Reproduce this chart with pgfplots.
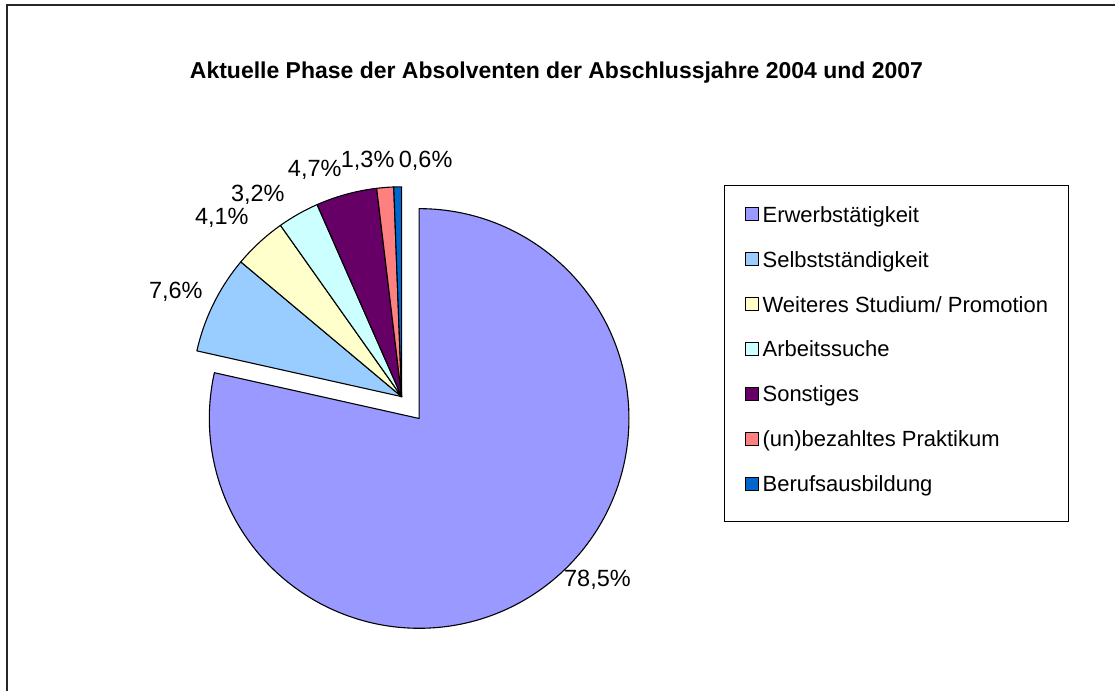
\documentclass[border=0pt]{standalone}
\usepackage{pgfplots}
\pgfplotsset{compat=1.18}
\usepackage{fontspec}
\setmainfont{Liberation Sans}

% Excel-Standardfarben
\definecolor{cErwerb}{HTML}{9999FF}
\definecolor{cSelbst}{HTML}{99CCFF}
\definecolor{cStudium}{HTML}{FFFFCC}
\definecolor{cSuche}{HTML}{CCFFFF}
\definecolor{cSonst}{HTML}{660066}
\definecolor{cPrakt}{HTML}{FF8080}
\definecolor{cBeruf}{HTML}{0066CC}

% Kuchenmitte (402,295), Radius 210; Start 12 Uhr, im Uhrzeigersinn
\def\cumsum{0}
\newcommand{\slice}[3]{% Wert in %, Farbe, Abstand (explode)
  \pgfplotsextra{%
    \pgfmathsetmacro\angA{90-3.6*\cumsum}%
    \pgfmathsetmacro\angB{90-3.6*(\cumsum+#1)}%
    \pgfmathsetmacro\angM{(\angA+\angB)/2}%
    \filldraw[fill=#2, draw=black, line width=1.1bp, line join=round, shift={(\angM:#3bp)}]
      (axis cs:402,295) -- ++(\angA:210bp) arc[start angle=\angA, end angle=\angB, radius=210bp] -- cycle;
    \pgfmathsetmacro\tmp{\cumsum+#1}\xdef\cumsum{\tmp}%
  }}

\begin{document}
\begin{tikzpicture}
\begin{axis}[
  hide axis, scale only axis, clip=false,
  x=1bp, y=1bp, xmin=0, xmax=1116, ymin=0, ymax=692,
  legend cell align=left,
  legend image code/.code={\draw[#1, draw=black, line width=0.8bp] (0bp,-1bp) rectangle (13bp,12bp);},
  legend style={at={(axis cs:725,507)}, anchor=north west, draw=black, line width=1bp,
    inner xsep=20bp, inner ysep=21.9bp, row sep=22.1bp, column sep=4bp,
    font=\fontsize{22bp}{26bp}\selectfont,
    nodes={inner sep=0pt, text height=13bp, text depth=8bp}},
]
\pgfplotsextra{\path (axis cs:0,0) rectangle (axis cs:1116,692);}

\slice{78.5}{cErwerb}{28}
\slice{7.6}{cSelbst}{0}
\slice{4.1}{cStudium}{0}
\slice{3.2}{cSuche}{0}
\slice{4.7}{cSonst}{0}
\slice{1.3}{cPrakt}{0}
\slice{0.6}{cBeruf}{0}

\addlegendimage{fill=cErwerb}\addlegendentry{Erwerbstätigkeit}
\addlegendimage{fill=cSelbst}\addlegendentry{Selbstständigkeit}
\addlegendimage{fill=cStudium}\addlegendentry{Weiteres Studium/ Promotion}
\addlegendimage{fill=cSuche}\addlegendentry{Arbeitssuche}
\addlegendimage{fill=cSonst}\addlegendentry{Sonstiges}
\addlegendimage{fill=cPrakt}\addlegendentry{(un)bezahltes Praktikum}
\addlegendimage{fill=cBeruf}\addlegendentry{Berufsausbildung}

% Rahmen (nur oben und links sichtbar)
\draw[line width=2bp, black!85] (axis cs:7,0) -- (axis cs:7,687) -- (axis cs:1116,687);

% Titel
\node[font=\fontsize{23bp}{27bp}\selectfont\bfseries] at (axis cs:557,619) {Aktuelle Phase der Absolventen der Abschlussjahre 2004 und 2007};

% Datenbeschriftungen
\begin{scope}[every node/.style={font=\fontsize{23.5bp}{27bp}\selectfont, inner sep=0pt}]
\node at (axis cs:598,112) {78,5\%};
\node at (axis cs:176,400) {7,6\%};
\node at (axis cs:222,474) {4,1\%};
\node at (axis cs:258,497) {3,2\%};
\node at (axis cs:315,522) {4,7\%};
\node at (axis cs:368,531) {1,3\%};
\node at (axis cs:426,531) {0,6\%};
\end{scope}
\end{axis}
\end{tikzpicture}
\end{document}
